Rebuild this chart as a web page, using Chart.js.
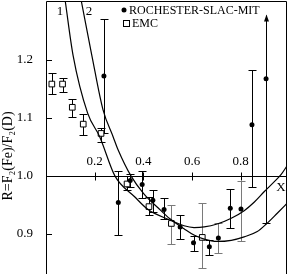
<!DOCTYPE html>
<html>
<head>
<meta charset="utf-8">
<script src="https://cdn.jsdelivr.net/npm/chart.js@4.4.0/dist/chart.umd.min.js"></script>
<style>
  html, body { margin: 0; padding: 0; background: #fff; }
  #wrap { width: 288px; height: 274px; }
</style>
</head>
<body>
<div id="wrap"><canvas id="chart1"></canvas></div>
<script>
// Rochester-SLAC-MIT points (filled dots) with error bar ends
const rochX  = [0.238, 0.297, 0.346, 0.395, 0.439, 0.485, 0.551, 0.606, 0.671, 0.708, 0.757, 0.801, 0.846, 0.904];
const rochY  = [1.172, 0.954, 0.992, 0.985, 0.958, 0.942, 0.912, 0.885, 0.878, 0.893, 0.944, 0.943, 1.088, 1.167];
const rochLo = [1.074, 0.899, 0.980, 0.961, 0.938, 0.926, 0.892, 0.871, 0.864, 0.867, 0.911, 0.888, 0.981, 0.919];
const rochHi = [1.270, 1.008, 1.003, 1.008, 0.975, 0.961, 0.933, 0.896, 0.889, 0.919, 0.977, 0.991, 1.182, 1.277];

// EMC points (open squares)
const emcX  = [0.024, 0.068, 0.108, 0.153, 0.226, 0.333, 0.423, 0.515, 0.642];
const emcY  = [1.158, 1.158, 1.118, 1.089, 1.073, 0.986, 0.947, 0.918, 0.894];
const emcLo = [1.141, 1.144, 1.102, 1.071, 1.059, 0.975, 0.933, 0.883, 0.842];
const emcHi = [1.177, 1.169, 1.133, 1.106, 1.082, 0.999, 0.964, 0.950, 0.953];

// model curves 1 and 2
const curve1X = [0.079, 0.111, 0.171, 0.221, 0.283, 0.364, 0.419, 0.509, 0.567, 0.608, 0.650, 0.703, 0.761, 0.814, 0.856, 0.897, 0.938, 0.967, 0.996];
const curve1Y = [1.301, 1.208, 1.108, 1.067, 1.000, 0.964, 0.942, 0.924, 0.914, 0.911, 0.912, 0.917, 0.927, 0.940, 0.955, 0.973, 0.990, 1.003, 1.021];
const curve2X = [0.145, 0.188, 0.234, 0.276, 0.296, 0.349, 0.402, 0.460, 0.509, 0.567, 0.608, 0.650, 0.703, 0.761, 0.814, 0.868, 0.905, 0.951, 0.996];
const curve2Y = [1.301, 1.208, 1.114, 1.067, 1.045, 1.000, 0.969, 0.945, 0.926, 0.909, 0.898, 0.891, 0.887, 0.889, 0.895, 0.904, 0.917, 0.936, 0.955];

const xTicks = [0.2, 0.4, 0.6, 0.8];
const yTicks = [0.9, 1.0, 1.1, 1.2];

const SERIF = '"Liberation Serif", "DejaVu Serif", serif';
const arrowIdx = 13;          // rochester point whose bar runs off the top
const greyRoch = [9, 11];
const greyEmc = [7, 8];

function pts(xs, ys) {
  return xs.map((v, i) => ({x: v, y: ys[i]}));
}

const framePlugin = {
  id: 'framePlugin',
  beforeDatasetsDraw(chart) {
    const {ctx, chartArea: a, scales: {x, y}} = chart;
    ctx.save();
    ctx.lineWidth = 1;
    ctx.strokeStyle = '#000';
    const y1 = Math.round(y.getPixelForValue(1.0)) + 0.5;
    ctx.beginPath();
    ctx.moveTo(a.left, y1);
    ctx.lineTo(a.right, y1);
    xTicks.forEach(v => {
      const px = Math.round(x.getPixelForValue(v)) + 0.5;
      ctx.moveTo(px, y1 - 4);
      ctx.lineTo(px, y1 + 4);
    });
    ctx.stroke();

    // error bars
    const bar = (xv, lo, hi, grey, arrow) => {
      const px = Math.round(x.getPixelForValue(xv)) + 0.5;
      const pl = Math.round(y.getPixelForValue(lo)) + 0.5;
      const ph = Math.round(y.getPixelForValue(hi)) + 0.5;
      ctx.strokeStyle = grey ? '#7a7a7a' : '#000';
      ctx.fillStyle = ctx.strokeStyle;
      ctx.beginPath();
      ctx.moveTo(px, pl);
      ctx.lineTo(px, ph);
      ctx.moveTo(px - 4, pl);
      ctx.lineTo(px + 4, pl);
      if (!arrow) {
        ctx.moveTo(px - 4, ph);
        ctx.lineTo(px + 4, ph);
      }
      ctx.stroke();
      if (arrow) {
        ctx.beginPath();
        ctx.moveTo(px, ph - 1);
        ctx.lineTo(px - 2.5, ph + 6);
        ctx.lineTo(px + 2.5, ph + 6);
        ctx.closePath();
        ctx.fill();
      }
    };
    rochX.forEach((v, i) => bar(v, rochLo[i], rochHi[i], greyRoch.includes(i), i === arrowIdx));
    emcX.forEach((v, i) => bar(v, emcLo[i], emcHi[i], greyEmc.includes(i), false));
    ctx.restore();
  },
  afterDraw(chart) {
    const {ctx, chartArea: a, scales: {x, y}} = chart;
    ctx.save();
    ctx.strokeStyle = '#000';
    ctx.lineWidth = 1;
    ctx.beginPath();
    ctx.moveTo(a.left + 0.5, a.bottom);
    ctx.lineTo(a.left + 0.5, a.top + 0.5);
    ctx.lineTo(a.right - 0.5, a.top + 0.5);
    ctx.lineTo(a.right - 0.5, a.bottom);
    // inward y ticks
    yTicks.forEach(v => {
      if (v === 1.0) return;
      const py = Math.round(y.getPixelForValue(v)) + 0.5;
      ctx.moveTo(a.left, py);
      ctx.lineTo(a.left + 6, py);
    });
    ctx.stroke();

    ctx.fillStyle = '#000';
    ctx.font = '13px ' + SERIF;
    ctx.textAlign = 'center';
    ctx.textBaseline = 'middle';
    const y1 = y.getPixelForValue(1.0);
    xTicks.forEach(v => ctx.fillText(v.toFixed(1), x.getPixelForValue(v), y1 - 14));
    ctx.fillText('X', a.right - 6, y1 + 12);

    // curve labels
    ctx.fillText('1', 60, 12);
    ctx.fillText('2', 89, 12);

    // legend
    const ds = chart.data.datasets;
    ctx.font = '12px ' + SERIF;
    ctx.textAlign = 'left';
    ctx.beginPath();
    ctx.arc(124, 10, 2.5, 0, Math.PI * 2);
    ctx.fill();
    ctx.fillText(ds[2].label, 129, 10.5);
    ctx.strokeRect(123.5, 20.5, 6, 6);
    ctx.fillText(ds[3].label, 132, 24);

    // y title
    ctx.font = '14px ' + SERIF;
    ctx.translate(8, 156);
    ctx.rotate(-Math.PI / 2);
    ctx.textAlign = 'center';
    ctx.fillText('R=F\u2082(Fe)/F\u2082(D)', 0, 0);
    ctx.restore();
  }
};

const chart1 = new Chart(document.getElementById('chart1'), {
  type: 'line',
  data: {
    datasets: [{
      label: 'curve 1',
      data: pts(curve1X, curve1Y),
      borderColor: '#000',
      borderWidth: 1.2,
      pointRadius: 0,
      cubicInterpolationMode: 'monotone',
    }, {
      label: 'curve 2',
      data: pts(curve2X, curve2Y),
      borderColor: '#000',
      borderWidth: 1.2,
      pointRadius: 0,
      cubicInterpolationMode: 'monotone',
    }, {
      label: 'ROCHESTER-SLAC-MIT',
      data: pts(rochX, rochY),
      showLine: false,
      pointStyle: 'circle',
      pointRadius: 2.5,
      backgroundColor: '#000',
      borderColor: '#000',
      borderWidth: 0,
    }, {
      label: 'EMC',
      data: pts(emcX, emcY),
      showLine: false,
      pointStyle: 'rect',
      pointRadius: 4,
      backgroundColor: '#fff',
      borderColor: '#000',
      borderWidth: 1,
    }],
  },
  options: {
    responsive: true,
    maintainAspectRatio: false,
    animation: false,
    devicePixelRatio: 1,
    layout: {autoPadding: false, padding: {top: 1, right: 1, bottom: 0, left: 0}},
    scales: {
      x: {
        type: 'linear',
        min: 0,
        max: 0.99,
        display: false,
      },
      y: {
        type: 'linear',
        min: 0.831,
        max: 1.301,
        afterBuildTicks: (scale) => { scale.ticks = yTicks.map(v => ({value: v})); },
        afterFit: (scale) => {
          scale.width = 46;
          scale.paddingTop = 0;
          scale.paddingBottom = 0;
        },
        grid: {display: false, drawTicks: false},
        border: {display: false},
        ticks: {
          color: '#000',
          padding: 13,
          font: {family: SERIF, size: 13},
          callback: (v) => Number(v).toFixed(1),
        },
      },
    },
    plugins: {
      legend: {display: false},
      tooltip: {enabled: false},
    },
  },
  plugins: [framePlugin],
});
</script>
</body>
</html>
